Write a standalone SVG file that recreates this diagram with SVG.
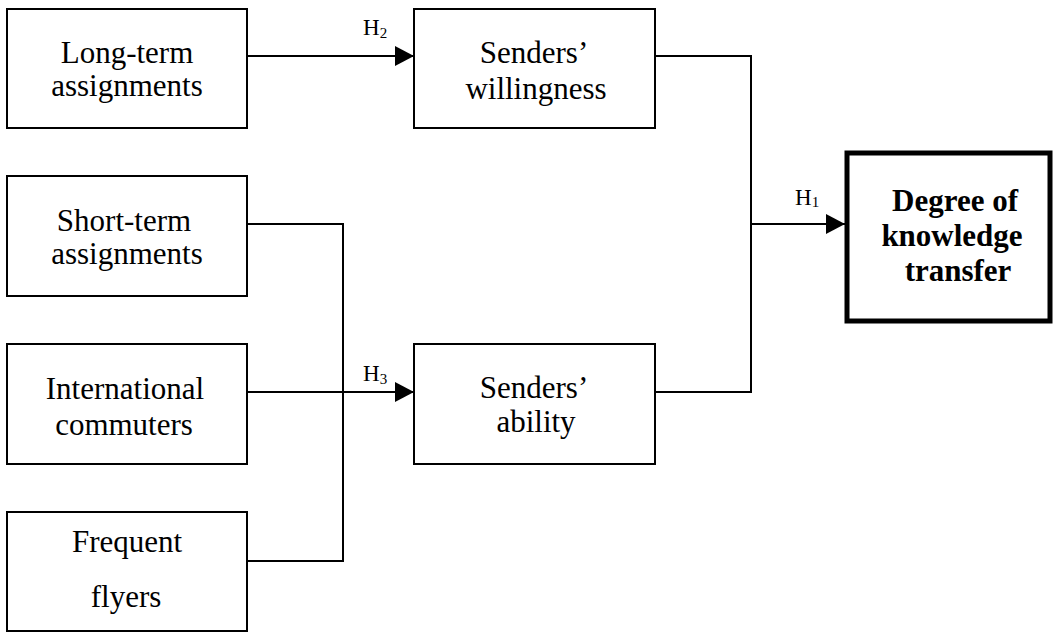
<svg xmlns="http://www.w3.org/2000/svg" width="1055" height="632" viewBox="0 0 1055 632">
<style>
.box{fill:#fff;stroke:#000;stroke-width:2}
.bold-box{fill:#fff;stroke:#000;stroke-width:5}
.t{font-family:"Liberation Serif","Times New Roman",serif;font-size:31px;fill:#000;text-anchor:middle}
.tb{font-family:"Liberation Serif","Times New Roman",serif;font-size:31px;font-weight:bold;fill:#000;text-anchor:middle}
.h{font-family:"Liberation Serif","Times New Roman",serif;font-size:23px;fill:#000}
.sub{font-size:15px}
.c{fill:none;stroke:#000;stroke-width:2}
</style>
<defs>
<marker id="arr" markerUnits="userSpaceOnUse" markerWidth="20" markerHeight="20" refX="19" refY="10" orient="auto">
<path d="M0,0 L19,10 L0,20 z" fill="#000"/>
</marker>
</defs>
<rect width="1055" height="632" fill="#fff"/>
<g id="connectors">
<line class="c" x1="247" y1="56" x2="414" y2="56" marker-end="url(#arr)"/>
<polyline class="c" points="655,56 751,56 751,392 655,392"/>
<line class="c" x1="751" y1="224" x2="845" y2="224" marker-end="url(#arr)"/>
<polyline class="c" points="247,224 343,224 343,561 247,561"/>
<line class="c" x1="247" y1="392" x2="414" y2="392" marker-end="url(#arr)"/>
<text class="h" x="363" y="35">H<tspan class="sub" dy="3">2</tspan></text>
<text class="h" x="363" y="381">H<tspan class="sub" dy="3">3</tspan></text>
<text class="h" x="795" y="205">H<tspan class="sub" dy="2">1</tspan></text>
</g>
<g id="n-longterm">
<rect class="box" x="7" y="9" width="240" height="119"/>
<text class="t" x="127" y="63">Long-term</text>
<text class="t" x="127" y="96">assignments</text>
</g>
<g id="n-willingness">
<rect class="box" x="414" y="9" width="241" height="119"/>
<text class="t" x="534" y="63">Senders’</text>
<text class="t" x="536" y="99">willingness</text>
</g>
<g id="n-shortterm">
<rect class="box" x="7" y="176" width="240" height="120"/>
<text class="t" x="124" y="231">Short-term</text>
<text class="t" x="127" y="264">assignments</text>
</g>
<g id="n-commuters">
<rect class="box" x="7" y="344" width="240" height="120"/>
<text class="t" x="125" y="399">International</text>
<text class="t" x="124" y="435">commuters</text>
</g>
<g id="n-flyers">
<rect class="box" x="7" y="512" width="240" height="119"/>
<text class="t" x="127" y="552">Frequent</text>
<text class="t" x="126" y="607">flyers</text>
</g>
<g id="n-ability">
<rect class="box" x="414" y="344" width="241" height="120"/>
<text class="t" x="534" y="398">Senders’</text>
<text class="t" x="536" y="432">ability</text>
</g>
<g id="n-degree">
<rect class="bold-box" x="847" y="153" width="203" height="168"/>
<text class="tb" x="955" y="211">Degree of</text>
<text class="tb" x="952" y="246">knowledge</text>
<text class="tb" x="958" y="281">transfer</text>
</g>
</svg>
